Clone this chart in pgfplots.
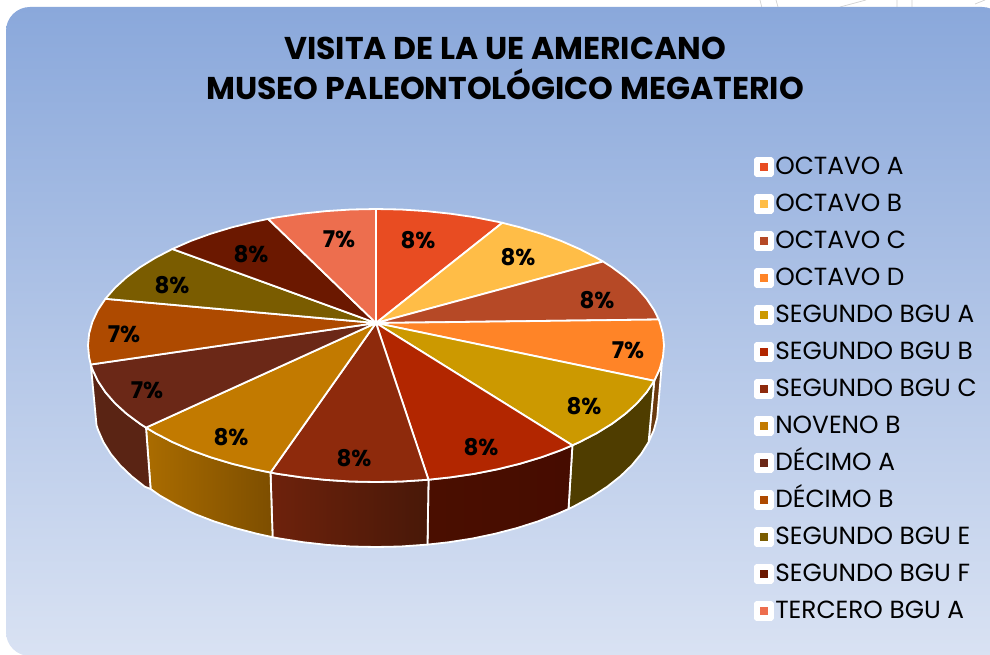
\documentclass[border=0pt]{standalone}
\usepackage{pgfplots}
\pgfplotsset{compat=1.18}
\usepackage{fontspec}
\setmainfont{Poppins}
\definecolor{cA}{HTML}{E84C22}
\definecolor{cB}{HTML}{FFBD47}
\definecolor{cC}{HTML}{B64926}
\definecolor{cD}{HTML}{FF8427}
\definecolor{cE}{HTML}{CC9900}
\definecolor{cF}{HTML}{B22600}
\definecolor{cG}{HTML}{8E2A0C}
\definecolor{cH}{HTML}{C27A00}
\definecolor{cI}{HTML}{6B2817}
\definecolor{cJ}{HTML}{AE4A00}
\definecolor{cK}{HTML}{7A5C00}
\definecolor{cL}{HTML}{6B1800}
\definecolor{cM}{HTML}{ED6E4E}
\begin{document}
\begin{tikzpicture}
\useasboundingbox (0,0) rectangle (990pt,654pt);
\clip (0,0) rectangle (990pt,654pt);
\fill[white] (0,0) rectangle (990pt,654pt);
\draw[black!18,line width=0.7pt] (760pt,654pt) -- (762pt,646pt) (776pt,654pt) -- (778pt,647pt) (840pt,647pt) -- (866pt,654pt) (897pt,654pt) -- (897pt,647pt) (912pt,654pt) -- (912pt,647pt) (975pt,650pt) -- (985pt,654pt);
\shade[top color={rgb,255:red,138;green,168;blue,219}, bottom color={rgb,255:red,217;green,226;blue,243}]
  (500pt,-2pt) [rounded corners=24pt] -- (6pt,-2pt) -- (6pt,647pt) -- (1006pt,647pt) [sharp corners] -- (1006pt,-2pt) -- cycle;
\begin{axis}[at={(0,0)},anchor=south west,scale only axis,width=990pt,height=654pt,
  xmin=0,xmax=990,ymin=0,ymax=654,y dir=reverse,hide axis,clip=false,
  legend style={at={(axis cs:754,157)},anchor=north west,draw=none,fill=none,
    inner sep=0pt,outer sep=0pt,row sep=13pt,
    /tikz/every odd column/.append style={column sep=1.5pt},
    nodes={font=\fontsize{24.8}{27}\selectfont,text height=17pt,text depth=7pt,inner sep=0pt}},
  legend cell align=left,
  legend image code/.code={
    \fill[white,rounded corners=1.5pt] (0pt,-7pt) rectangle (18pt,11pt);
    \path[#1,draw=none] (5.5pt,-2pt) rectangle (13.5pt,6pt);
  },
  every axis plot/.append style={draw=white,line width=1.8pt,line join=round},
]
% walls
\addplot[forget plot,fill={rgb,255:red,106;green,58;blue,16}] coordinates {(654.2,380.8)(659.6,369.2)(662,362)(657.2,417.8)(653.9,430.1)(648.6,442.1)} --cycle;
\addplot[forget plot,fill={rgb,255:red,79;green,61;blue,0}] coordinates {(654.2,380.8)(646.6,392.2)(637,403.2)(625.4,413.75)(611.9,423.8)(596.6,433.2)(579.6,442)(572.4,445.3)(568.5,509)(575.5,505.5)(592.2,496.5)(607.2,486.7)(620.4,476.25)(631.8,465.3)(641.2,453.9)(648.6,442.1)} --cycle;
\addplot[forget plot,left color={rgb,255:red,74;green,14;blue,0},right color={rgb,255:red,70;green,12;blue,0}] coordinates {(572.4,445.3)(561.1,450.1)(541.2,457.3)(520,463.7)(497.7,469.2)(474.5,473.8)(450.5,477.3)(428.5,479.7)(427.5,544.6)(449,542.2)(472.5,538.5)(495.3,533.7)(517.1,528)(537.9,521.4)(557.4,513.9)(568.5,509)} --cycle;
\addplot[forget plot,left color={rgb,255:red,110;green,34;blue,12},right color={rgb,255:red,72;green,24;blue,8}] coordinates {(428.5,479.7)(401.1,481.5)(376,482)(350.9,481.5)(326,479.9)(301.5,477.3)(277.5,473.8)(270.5,472.5)(272.6,537.2)(279.5,538.5)(303,542.2)(327,544.9)(351.4,546.5)(376,547)(400.6,546.5)(427.5,544.6)} --cycle;
\addplot[forget plot,left color={rgb,255:red,170;green,108;blue,0},right color={rgb,255:red,125;green,78;blue,0}] coordinates {(270.5,472.5)(254.3,469.2)(232,463.7)(210.8,457.3)(190.9,450.1)(172.4,442)(155.4,433.2)(146,427.6)(150.6,489)(159.8,495.5)(176.5,505)(194.6,513.9)(214.1,521.4)(234.9,528)(256.7,533.7)(272.6,537.2)} --cycle;
\addplot[forget plot,fill={rgb,255:red,90;green,36;blue,20}] coordinates {(146,427.6)(140.1,423.8)(126.6,413.75)(115,403.2)(105.4,392.2)(97.8,380.8)(92.4,369.2)(90.8,364.5)(96.5,425.2)(98.1,430.1)(103.4,442.1)(110.8,453.9)(120.2,465.3)(131.6,476.25)(144.8,486.7)(150.6,489)} --cycle;
% top slices
\addplot[fill=cA] coordinates {(376,323)(376,209)(401.1,209.5)(426,211.1)(450.5,213.7)(474.5,217.2)(497.7,221.8)(502.3,222.8)} --cycle;
\addlegendentry{OCTAVO A}
\addplot[fill=cB] coordinates {(376,323)(502.3,222.8)(520,227.3)(541.2,233.7)(561.1,240.9)(579.6,249)(596.6,257.8)(603,261.5)} --cycle;
\addlegendentry{OCTAVO B}
\addplot[fill=cC] coordinates {(376,323)(603,261.5)(611.9,267.2)(625.4,277.25)(637,287.8)(646.6,298.8)(654.2,310.2)(658.7,319.5)} --cycle;
\addlegendentry{OCTAVO C}
\addplot[fill=cD] coordinates {(376,323)(658.7,319.5)(659.6,321.8)(662.9,333.6)(664,345.5)(662.9,357.4)(659.6,369.2)(654.2,380.8)} --cycle;
\addlegendentry{OCTAVO D}
\addplot[fill=cE] coordinates {(376,323)(654.2,380.8)(646.6,392.2)(637,403.2)(625.4,413.75)(611.9,423.8)(596.6,433.2)(579.6,442)(572.4,445.3)} --cycle;
\addlegendentry{SEGUNDO BGU A}
\addplot[fill=cF] coordinates {(376,323)(572.4,445.3)(561.1,450.1)(541.2,457.3)(520,463.7)(497.7,469.2)(474.5,473.8)(450.5,477.3)(428.5,479.7)} --cycle;
\addlegendentry{SEGUNDO BGU B}
\addplot[fill=cG] coordinates {(376,323)(428.5,479.7)(401.1,481.5)(376,482)(350.9,481.5)(326,479.9)(301.5,477.3)(277.5,473.8)(270.5,472.5)} --cycle;
\addlegendentry{SEGUNDO BGU C}
\addplot[fill=cH] coordinates {(376,323)(270.5,472.5)(254.3,469.2)(232,463.7)(210.8,457.3)(190.9,450.1)(172.4,442)(155.4,433.2)(146,427.6)} --cycle;
\addlegendentry{NOVENO B}
\addplot[fill=cI] coordinates {(376,323)(146,427.6)(140.1,423.8)(126.6,413.75)(115,403.2)(105.4,392.2)(97.8,380.8)(92.4,369.2)(90.8,364.5)} --cycle;
\addlegendentry{DÉCIMO A}
\addplot[fill=cJ] coordinates {(376,323)(90.8,364.5)(89.1,357.4)(88,345.5)(89.1,333.6)(92.4,321.8)(97.8,310.2)(105.4,298.8)} --cycle;
\addlegendentry{DÉCIMO B}
\addplot[fill=cK] coordinates {(376,323)(105.4,298.8)(115,287.8)(126.6,277.25)(140.1,267.2)(155.4,257.8)(172.4,249)} --cycle;
\addlegendentry{SEGUNDO BGU E}
\addplot[fill=cL] coordinates {(376,323)(172.4,249)(190.9,240.9)(210.8,233.7)(232,227.3)(254.3,221.8)(268.1,218.9)} --cycle;
\addlegendentry{SEGUNDO BGU F}
\addplot[fill=cM] coordinates {(376,323)(268.1,218.9)(277.5,217.2)(301.5,213.7)(326,211.1)(350.9,209.5)(376,209)} --cycle;
\addlegendentry{TERCERO BGU A}
% data labels
\foreach \x/\y/\t in {418/240/8,518/257/8,597/300/8,628/350/7,584/406/8,481/447/8,354/458/8,231/437/8,147/390/7,124/334/7,172/285/8,251/254/8,339/239/7}{
  \edef\tmp{\noexpand\node[font=\noexpand\fontsize{23}{26}\noexpand\selectfont\noexpand\bfseries,inner sep=0pt] at (axis cs:\x,\y) {\t\noexpand\%};}\tmp
}
% title
\node[font=\fontsize{31.5}{36}\selectfont\bfseries,inner sep=0pt] at (axis cs:505,48.5) {VISITA DE LA UE AMERICANO};
\node[font=\fontsize{31.5}{36}\selectfont\bfseries,inner sep=0pt] at (axis cs:505,84.5) {MUSEO PALEONTOLÓGICO MEGATERIO};
\end{axis}
\end{tikzpicture}
\end{document}
